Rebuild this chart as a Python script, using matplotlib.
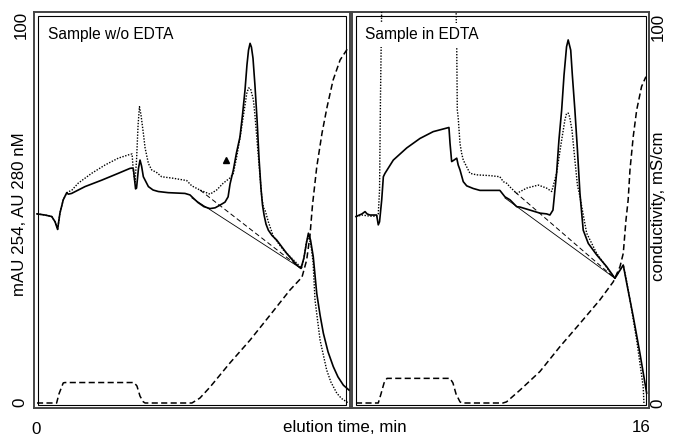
import numpy as np
import matplotlib.pyplot as plt
from matplotlib.patches import Rectangle

plt.rcParams['font.family'] = ['Liberation Sans', 'DejaVu Sans']

# ---- left panel: sample w/o EDTA (time in min, signal in % full scale) ----
t_a254_L = [0, 0.41, 0.76, 0.93, 1.06, 1.18, 1.35, 1.53, 1.61, 1.78, 2.47, 3.33, 4.18, 4.78,
            4.89, 4.96, 5.07, 5.12, 5.22, 5.30, 5.38, 5.47, 5.73, 5.97, 6.24, 6.75, 7.61, 7.87,
            7.97, 8.28, 8.59, 8.90, 9.16, 9.41, 9.67, 9.83, 9.93, 10.10, 10.26, 10.44, 10.57,
            10.70, 10.80, 10.88, 10.96, 11.03, 11.11, 11.21, 11.32, 11.42, 11.52, 11.60, 11.68,
            11.78, 11.90, 12.09, 12.33, 12.84, 13.36, 13.58, 13.73, 13.86, 13.96, 14.07, 14.21,
            14.39, 14.56, 14.73, 14.97, 15.24, 15.48, 15.76, 16.05]
a254_L = [49.9, 49.6, 49.2, 47.8, 45.8, 50.1, 53.6, 55.5, 55.1, 55.3, 57.1, 58.8, 60.6, 61.9,
          62.0, 61.7, 56.5, 56.7, 61.9, 64.1, 62.5, 59.7, 57.1, 56.2, 55.8, 55.5, 55.3, 54.9,
          54.4, 52.9, 51.8, 51.3, 51.5, 52.2, 53.0, 54.4, 57.8, 61.5, 66.0, 70.2, 76.0,
          82.6, 89.2, 93.1, 94.9, 93.9, 91.0, 83.9, 74.7, 64.6, 56.7, 52.2, 49.6,
          47.2, 45.6, 44.2, 43.0, 39.5, 36.4, 35.5, 38.3, 42.2, 44.8, 43.0, 38.6,
          28.9, 23.2, 18.4, 13.5, 9.6, 6.9, 4.7, 3.4]

t_a280_L = [0, 0.41, 0.76, 0.93, 1.06, 1.18, 1.35, 1.53, 1.80, 2.12, 2.81, 3.50, 4.18, 4.78,
            4.89, 4.96, 5.04, 5.12, 5.20, 5.27, 5.35, 5.47, 5.56, 5.73, 5.90, 6.16, 6.41, 7.01,
            7.70, 7.96, 8.38, 8.90, 9.24, 9.58, 9.93, 10.10, 10.26, 10.44, 10.60, 10.79, 10.88,
            10.98, 11.13, 11.21, 11.38, 11.56, 11.65, 11.73, 11.90, 12.16, 12.67, 13.36, 13.61,
            13.73, 13.86, 13.96, 14.09, 14.20, 14.30, 14.56, 14.90, 15.12, 15.42, 15.66, 15.93,
            16.01]
a280_L = [49.9, 49.6, 49.2, 47.8, 45.8, 50.1, 53.6, 55.5, 56.2, 58.0, 60.6, 62.8, 64.6, 65.6,
          65.7, 60.9, 58.3, 64.1, 73.4, 78.2, 76.0, 71.2, 67.3, 63.2, 61.5, 60.8, 59.7, 59.3,
          58.7, 57.3, 56.2, 55.1, 56.2, 58.0, 59.4, 60.6, 64.6, 69.9, 75.2, 81.7, 83.1,
          83.0, 80.0, 76.0, 65.4, 54.4, 51.5, 50.9, 47.8, 43.9, 40.4, 36.9, 35.6,
          38.3, 42.5, 44.1, 41.7, 37.2, 27.2, 16.6, 8.7, 5.5, 2.6, 1.2, 0.3,
          0]

t_cond_L = [0, 1.01, 1.13, 1.35, 1.44, 4.99, 5.14, 5.30, 5.47, 5.56, 7.97, 8.38, 8.90, 9.93,
            10.96, 11.99, 13.01, 13.63, 13.87, 14.04, 14.17, 14.39, 14.66, 14.92, 15.23, 15.59,
            16.0]
cond_L = [0, 0, 2.4, 5.3, 5.4, 5.4, 4.5, 1.8, 0.3, 0, 0, 1.3, 4.2, 10.6,
          16.6, 23.2, 29.8, 33.2, 37.7, 44.1, 52.2, 62.3, 71.2, 78.1, 85.2, 90.5,
          93.7]

base254_L = ([7.97, 13.58], [54.1, 35.5])
base280_L = ([8.38, 13.58], [56.2, 35.5])
marker_L = (9.70, 64.2)

# ---- right panel: sample in EDTA ----
t_a254_R = [0, 0.33, 0.50, 0.61, 0.77, 1.14, 1.23, 1.30, 1.42, 1.51, 1.60, 2.06, 2.80, 3.53,
            4.26, 5.13, 5.19, 5.28, 5.41, 5.56, 5.64, 5.74, 5.92, 6.11, 6.47, 6.84, 7.94, 8.22,
            8.50, 8.87, 9.05, 9.60, 10.15, 10.52, 10.70, 10.87, 11.07, 11.20, 11.35, 11.48,
            11.62, 11.71, 11.85, 11.94, 12.08, 12.22, 12.36, 12.45, 12.54, 12.82, 13.28, 13.83,
            14.29, 14.51, 14.75, 14.94, 15.30, 15.67, 16.04]
a254_R = [49.2, 49.9, 50.5, 49.9, 49.6, 49.6, 47.0, 47.8, 53.6, 59.7, 60.6, 64.1, 67.3, 69.8,
          71.6, 72.7, 68.5, 63.7, 64.1, 64.6, 62.8, 61.5, 58.4, 57.3, 56.6, 56.1, 56.1, 54.4,
          53.6, 51.8, 51.7, 50.9, 50.1, 49.9, 49.6, 50.9, 60.6, 69.4, 77.3, 86.5,
          94.0, 95.8, 93.1, 86.5, 77.3, 66.8, 55.3, 50.4, 45.6, 42.1, 39.1, 36.0,
          32.9, 34.6, 36.4, 31.6, 22.8, 13.1, 2.6]

t_a280_R = [0, 0.33, 0.77, 1.14, 1.23, 1.30, 1.35, 1.42, 5.52, 5.56, 5.59, 5.64, 5.74, 5.83,
            5.92, 6.11, 6.29, 6.66, 7.39, 7.94, 8.13, 8.31, 8.50, 8.87, 9.42, 10.06, 10.52,
            10.80, 11.07, 11.35, 11.53, 11.62, 11.71, 11.79, 11.92, 12.08, 12.22, 12.36, 12.47,
            12.73, 13.28, 14.01, 14.29, 14.51, 14.75, 14.92, 15.12, 15.49, 15.85, 15.89]
a280_R = [49.2, 49.6, 49.3, 49.3, 49.9, 56.2, 80.0, 105, 105, 94.0, 77.3, 75.3, 68.5, 65.9,
          64.1, 62.3, 60.6, 60.2, 60.0, 59.7, 58.4, 58.0, 57.0, 55.3, 56.7, 57.5, 56.7,
          55.8, 60.6, 69.4, 74.7, 76.4, 76.5, 75.5, 72.0, 64.1, 57.5, 54.4, 51.5,
          44.8, 39.5, 34.6, 32.9, 34.6, 36.4, 32.5, 27.2, 16.6, 4.3, 0]

t_cond_R = [0, 1.23, 1.38, 1.55, 1.71, 5.19, 5.35, 5.52, 5.74, 5.85, 8.11, 8.31, 9.05, 10.15,
            11.26, 12.36, 13.46, 14.20, 14.57, 14.75, 14.90, 15.02, 15.12, 15.30, 15.49, 15.76,
            16.0]
cond_R = [0, 0, 2.4, 5.3, 6.5, 6.5, 5.3, 2.4, 0.3, 0, 0, 0.3, 3.4, 8.3,
          14.9, 21.0, 27.2, 32.0, 36.0, 39.5, 48.3, 53.6, 61.5, 70.3, 77.3, 83.5,
          86.1]

base254_R = ([8.22, 14.29], [54.1, 32.9])
base280_R = ([8.77, 14.29], [55.7, 32.9])

W, H = 674, 437
fig = plt.figure(figsize=(W / 100, H / 100), dpi=100)


def px_axes(x0, x1, y0, y1):
    return fig.add_axes([x0 / W, 1 - y1 / H, (x1 - x0) / W, (y1 - y0) / H])


def draw_panel(ax, title, t254, a254, t280, a280, tc, cond, b254, b280, xlim, wpx, hpx):
    ax.plot(t254, a254, color='black', lw=1.2, zorder=3)
    ax.plot(t280, a280, color='black', lw=1.0, ls=(0, (1, 1.1)), zorder=3)
    ax.plot(tc, cond, color='black', lw=1.1, ls=(0, (4, 2.2)), zorder=3)
    ax.plot(*b254, color='black', lw=0.6, zorder=3)
    ax.plot(*b280, color='black', lw=0.7, ls=(0, (5, 3)), zorder=3)
    ax.set_xlim(*xlim)
    ax.set_ylim(-1.32, 103.17)
    ax.set_xticks([])
    ax.set_yticks([])
    for s in ax.spines.values():
        s.set_linewidth(1.4)
        s.set_color('#444444')
    dx, dy = 3.5 / wpx, 3.5 / hpx
    ax.add_patch(Rectangle((dx, dy), 1 - 2 * dx, 1 - 2 * dy, transform=ax.transAxes,
                           fill=False, lw=0.8, edgecolor='black', zorder=6, clip_on=False))
    ax.text(0.045, 0.942, title, transform=ax.transAxes, fontsize=11.2, ha='left',
            va='center', zorder=5,
            bbox=dict(boxstyle='square,pad=0.3', facecolor='white', edgecolor='none'))


axL = px_axes(34, 350, 12, 408)
draw_panel(axL, 'Sample w/o EDTA', t_a254_L, a254_L, t_a280_L, a280_L, t_cond_L, cond_L,
           base254_L, base280_L, (-0.154, 16.10), 316, 396)
axL.plot(*marker_L, marker='^', color='black', ms=5, zorder=4)

axR = px_axes(352, 649, 12, 408)
draw_panel(axR, 'Sample in EDTA', t_a254_R, a254_R, t_a280_R, a280_R, t_cond_R, cond_R,
           base254_R, base280_R, (-0.22, 16.17), 297, 396)

fs = 12.2
fig.text(21 / W, 1 - 24.5 / H, '100', rotation=90, ha='center', va='center', fontsize=fs)
fig.text(20 / W, 1 - 402 / H, '0', rotation=90, ha='center', va='center', fontsize=fs)
fig.text(20 / W, 1 - 214 / H, 'mAU 254, AU 280 nM', rotation=90, ha='center', va='center',
         fontsize=fs)
fig.text(658 / W, 1 - 27 / H, '100', rotation=90, ha='center', va='center', fontsize=fs)
fig.text(658 / W, 1 - 403 / H, '0', rotation=90, ha='center', va='center', fontsize=fs)
fig.text(658 / W, 1 - 206 / H, 'conductivity, mS/cm', rotation=90, ha='center', va='center',
         fontsize=fs)
fig.text(36 / W, 1 - 429 / H, '0', ha='center', va='center', fontsize=fs)
fig.text(641 / W, 1 - 428 / H, '16', ha='center', va='center', fontsize=fs)
fig.text(345 / W, 1 - 428 / H, 'elution time, min', ha='center', va='center', fontsize=fs)

fig.savefig('out.png', dpi=100)
